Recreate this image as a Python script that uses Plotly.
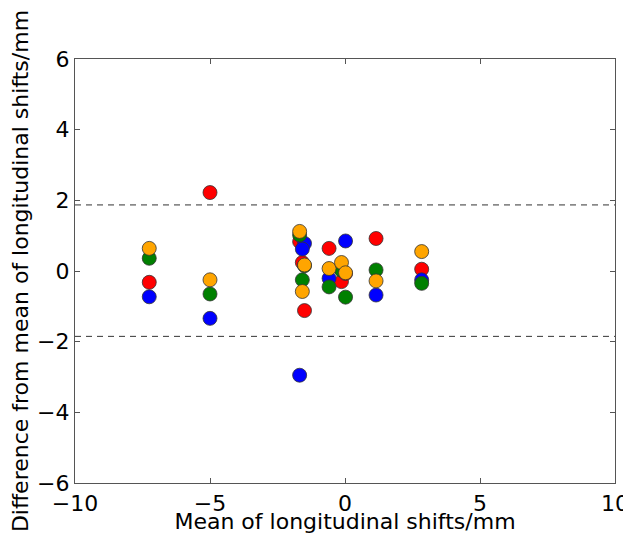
import plotly.graph_objects as go

# Mean of longitudinal shifts per case (mm)
case_means = [-7.25, -5.00, -1.68, -1.50, -1.58, -0.59, -0.13, 0.02, 1.15, 2.84]

# Difference of each observer from case mean (mm)
red_diff = [-0.32, 2.22, 0.83, -1.12, 0.24, 0.64, -0.30, -0.07, 0.92, 0.05]
blue_diff = [-0.73, -1.34, -2.95, 0.78, 0.62, -0.21, 0.04, 0.85, -0.68, -0.25]
green_diff = [0.36, -0.65, 1.02, 0.15, -0.25, -0.45, 0.02, -0.74, 0.03, -0.35]
orange_diff = [0.64, -0.25, 1.12, 0.17, -0.58, 0.07, 0.24, -0.05, -0.28, 0.55]

# Limits of agreement (mm)
limits = [1.87, -1.85]

x_ticks = [-10, -5, 0, 5, 10]
y_ticks = [-6, -4, -2, 0, 2, 4, 6]

series = [
    ("red", red_diff, "#ff0000"),
    ("blue", blue_diff, "#0000ff"),
    ("green", green_diff, "#008000"),
    ("orange", orange_diff, "#ffa500"),
]

fig = go.Figure()
for name, vals, col in series:
    fig.add_trace(go.Scatter(
        x=case_means, y=vals, mode="markers", name=name,
        marker=dict(size=14, color=col, line=dict(width=0.8, color="#333333")),
        showlegend=False,
    ))

for lim in limits:
    fig.add_shape(type="line", xref="paper", x0=0, x1=1, yref="y", y0=lim, y1=lim,
                  line=dict(color="#333333", width=1, dash="6px,5px"), layer="below")

FS = 22
axis_common = dict(
    showgrid=False, zeroline=False, showline=True, linecolor="#555555", linewidth=1.2,
    mirror="ticks", ticks="inside", ticklen=5, tickcolor="#555555", tickwidth=1,
    tickfont=dict(size=FS, color="black", family="DejaVu Sans"), automargin=False,
)

# page body has an 8px default margin, so the figure is offset by (8, 8)
fig.update_layout(
    width=623, height=526,
    margin=dict(l=67, r=16, t=51, b=51),
    paper_bgcolor="white", plot_bgcolor="white",
    font=dict(family="DejaVu Sans", size=FS, color="black"),
    xaxis=dict(range=[-10, 10], tickvals=x_ticks, ticktext=[str(v).replace("-", "\u2212") for v in x_ticks],
               title=dict(text="Mean of longitudinal shifts/mm", standoff=0,
                          font=dict(size=FS, color="black", family="DejaVu Sans")),
               **axis_common),
    yaxis=dict(range=[-6, 6], tickvals=y_ticks, ticktext=[str(v).replace("-", "\u2212") for v in y_ticks],
               title=dict(text="Difference from mean of longitudinal shifts/mm", standoff=6,
                          font=dict(size=FS, color="black", family="DejaVu Sans")),
               **axis_common),
)

fig.write_html("out.html")
